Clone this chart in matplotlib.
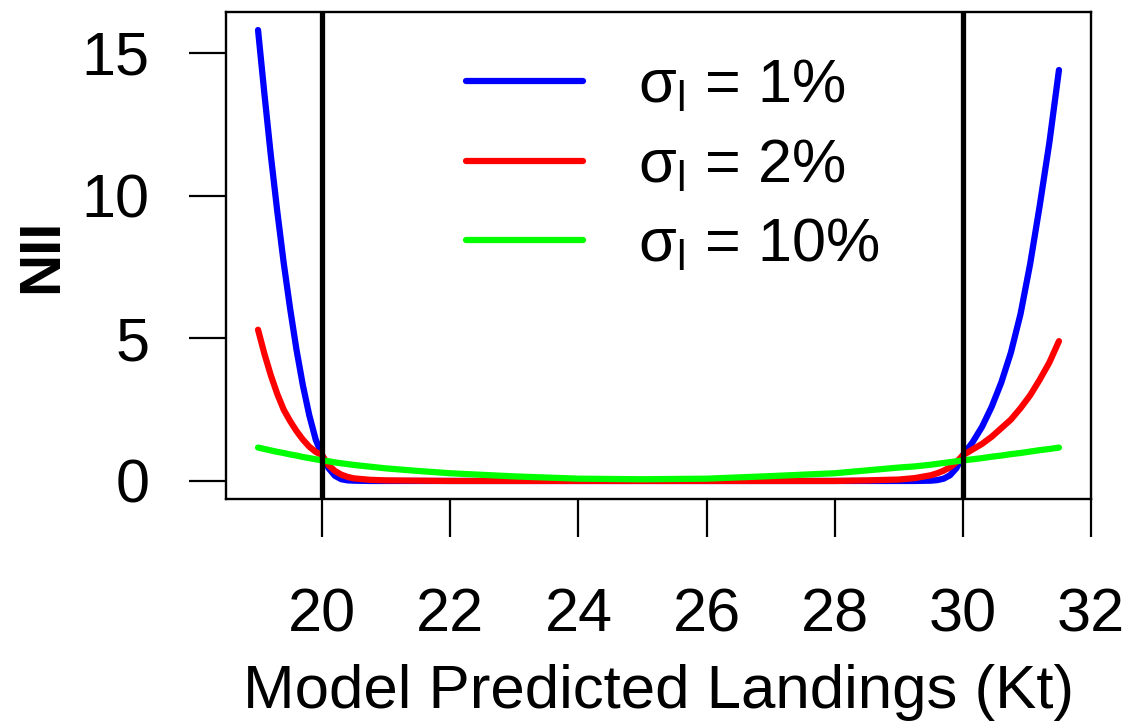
import matplotlib
matplotlib.use("Agg")
import matplotlib.pyplot as plt

# Predicted landings (Kt) at which the penalty curves are sampled
landings = [19.0, 19.1, 19.2, 19.3, 19.4, 19.5, 19.6, 19.7, 19.8, 19.9,
            20.0, 20.1, 20.2, 20.3, 20.4, 20.5, 20.75, 21.0, 21.5, 22.0,
            23.0, 24.0, 25.0, 26.0, 27.0, 28.0, 28.5, 29.0, 29.25, 29.5,
            29.6, 29.7, 29.8, 29.9, 30.0, 30.15, 30.3, 30.45, 30.6, 30.75,
            30.9, 31.05, 31.2, 31.35, 31.5]

# NII for each observation-error level
nii_1pct = [15.8, 13.55, 11.4, 9.45, 7.65, 6.05, 4.6, 3.35, 2.3, 1.45,
            0.9, 0.45, 0.18, 0.06, 0.02, 0.01, 0.0, 0.0, 0.0, 0.0,
            0.0, 0.0, 0.0, 0.0, 0.0, 0.0, 0.0, 0.0, 0.0, 0.01,
            0.03, 0.08, 0.2, 0.45, 0.9, 1.35, 1.9, 2.6, 3.45, 4.5,
            5.85, 7.6, 9.65, 11.85, 14.4]
nii_2pct = [5.3, 4.45, 3.7, 3.05, 2.5, 2.1, 1.75, 1.45, 1.2, 1.02,
            0.9, 0.55, 0.35, 0.22, 0.14, 0.09, 0.04, 0.02, 0.01, 0.0,
            0.0, 0.0, 0.0, 0.0, 0.0, 0.0, 0.02, 0.05, 0.1, 0.2,
            0.27, 0.36, 0.48, 0.66, 0.9, 1.1, 1.3, 1.55, 1.85, 2.15,
            2.55, 3.0, 3.55, 4.15, 4.9]
nii_10pct = [1.17, 1.12, 1.07, 1.02, 0.98, 0.93, 0.89, 0.84, 0.8, 0.76,
             0.72, 0.69, 0.65, 0.62, 0.59, 0.56, 0.5, 0.44, 0.35, 0.27,
             0.16, 0.08, 0.06, 0.08, 0.17, 0.27, 0.37, 0.47, 0.51, 0.57,
             0.6, 0.63, 0.66, 0.69, 0.72, 0.76, 0.8, 0.85, 0.89, 0.94,
             0.98, 1.03, 1.08, 1.12, 1.17]

series_labels = [r"$\sigma_l$ = 1%", r"$\sigma_l$ = 2%", r"$\sigma_l$ = 10%"]
series_colors = ["#0000FF", "#FF0000", "#00FF00"]

# bounds of the acceptable landings range
bounds = [20, 30]
xticks = [20, 22, 24, 26, 28, 30, 32]
yticks = [0, 5, 10, 15]

plt.rcParams["font.family"] = ["Liberation Sans", "DejaVu Sans"]
plt.rcParams["mathtext.default"] = "regular"

fig = plt.figure(figsize=(11.32, 7.26), dpi=100)
ax = fig.add_axes([226 / 1132, 1 - 499 / 726, 865 / 1132, 487 / 726])

for vals, lab, col in zip([nii_1pct, nii_2pct, nii_10pct], series_labels, series_colors):
    ax.plot(landings, vals, color=col, lw=4.5, label=lab, solid_capstyle="round")

for b in bounds:
    ax.axvline(b, color="black", lw=3.8)

# R-style 4% padding around the data range
allv = nii_1pct + nii_2pct + nii_10pct
ymin, ymax = min(allv), max(allv)
xmin, xmax = min(landings), max(landings)
ax.set_xlim(xmin - 0.04 * (xmax - xmin), xmax + 0.04 * (xmax - xmin))
ax.set_ylim(ymin - 0.04 * (ymax - ymin), ymax + 0.04 * (ymax - ymin))

ax.set_xticks(xticks)
ax.set_yticks(yticks)
ax.tick_params(axis="both", direction="out", length=27, width=1.6,
               labelsize=44, colors="black")
ax.tick_params(axis="x", pad=36.5)
ax.tick_params(axis="y", pad=28)
for sp in ax.spines.values():
    sp.set_linewidth(1.7)

ax.set_xlabel("Model Predicted Landings (Kt)", fontsize=44.5, labelpad=14)
ax.set_ylabel("NII", fontsize=42, fontweight="bold", labelpad=9)

ax.legend(loc="upper left", bbox_to_anchor=(0.249, 0.955), frameon=False,
          fontsize=44, handlelength=1.92, handletextpad=0.9,
          labelspacing=0.37, borderaxespad=0)

fig.savefig("out.png", dpi=100)
